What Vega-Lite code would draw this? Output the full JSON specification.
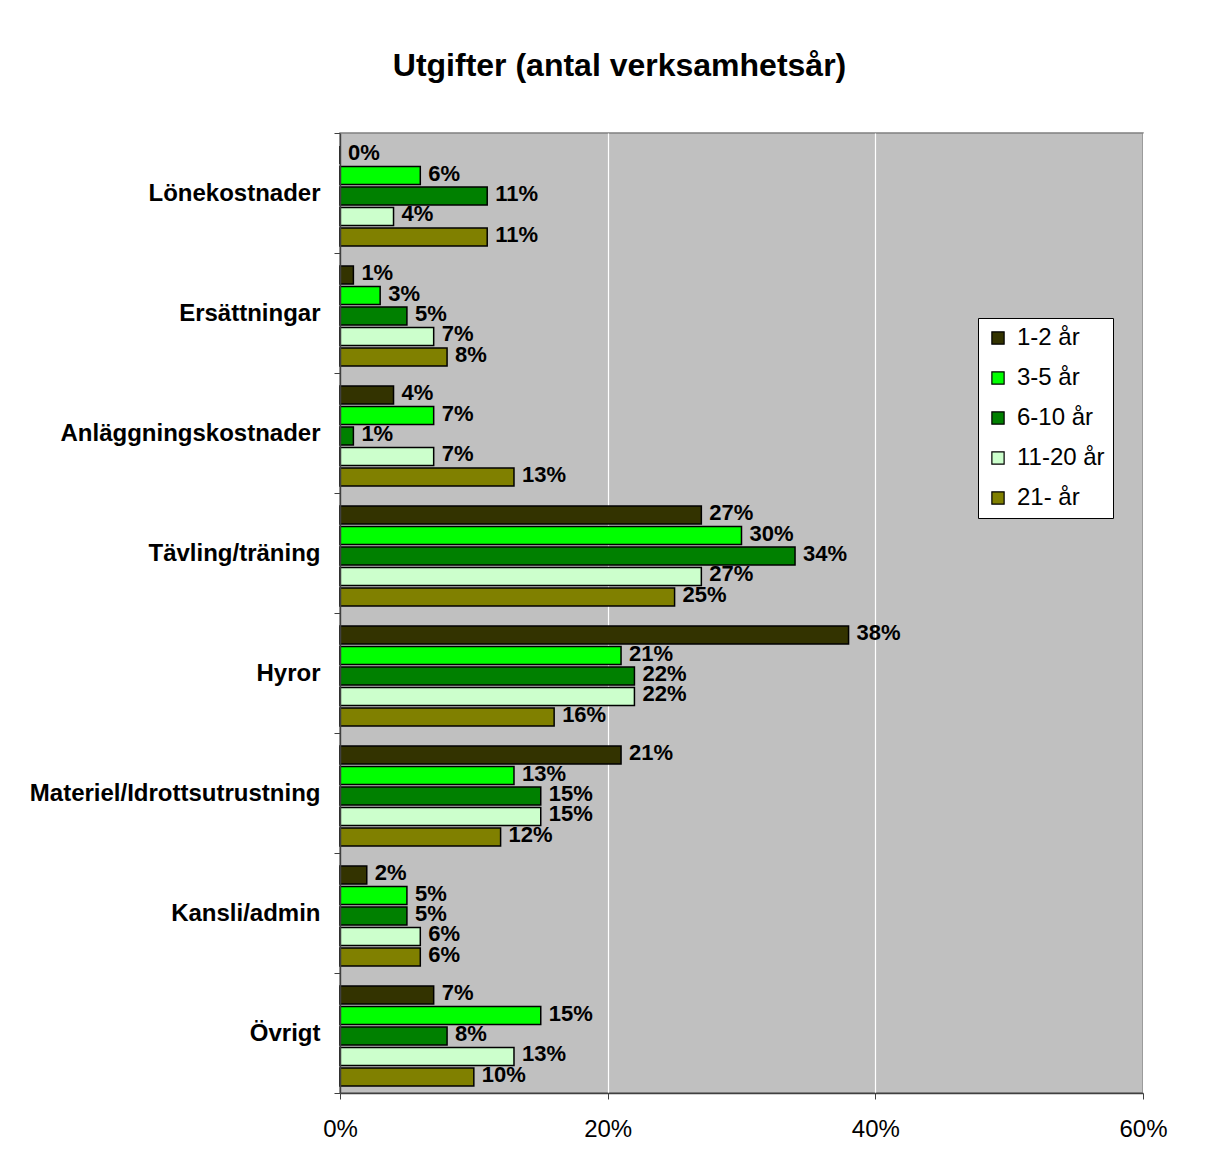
{
  "$schema": "https://vega.github.io/schema/vega-lite/v6.json",
  "autosize": {"type": "none"},
  "width": 803,
  "height": 960,
  "padding": {"left": 340, "top": 133, "right": 78, "bottom": 74},
  "background": "white",
  "title": {
    "text": "Utgifter (antal verksamhetsår)",
    "font": "Liberation Sans",
    "fontSize": 32,
    "fontWeight": "bold",
    "color": "black",
    "anchor": "middle",
    "baseline": "bottom",
    "offset": 6,
    "dx": -122
  },
  "config": {
    "font": "Liberation Sans",
    "view": {"fill": "#C0C0C0", "stroke": "#808080", "strokeWidth": 1.5}
  },
  "data": {
    "values": [
      {"kategori": "Lönekostnader", "grupp": "1-2 år", "andel": 0.0},
      {"kategori": "Lönekostnader", "grupp": "3-5 år", "andel": 0.06},
      {"kategori": "Lönekostnader", "grupp": "6-10 år", "andel": 0.11},
      {"kategori": "Lönekostnader", "grupp": "11-20 år", "andel": 0.04},
      {"kategori": "Lönekostnader", "grupp": "21- år", "andel": 0.11},
      {"kategori": "Ersättningar", "grupp": "1-2 år", "andel": 0.01},
      {"kategori": "Ersättningar", "grupp": "3-5 år", "andel": 0.03},
      {"kategori": "Ersättningar", "grupp": "6-10 år", "andel": 0.05},
      {"kategori": "Ersättningar", "grupp": "11-20 år", "andel": 0.07},
      {"kategori": "Ersättningar", "grupp": "21- år", "andel": 0.08},
      {"kategori": "Anläggningskostnader", "grupp": "1-2 år", "andel": 0.04},
      {"kategori": "Anläggningskostnader", "grupp": "3-5 år", "andel": 0.07},
      {"kategori": "Anläggningskostnader", "grupp": "6-10 år", "andel": 0.01},
      {"kategori": "Anläggningskostnader", "grupp": "11-20 år", "andel": 0.07},
      {"kategori": "Anläggningskostnader", "grupp": "21- år", "andel": 0.13},
      {"kategori": "Tävling/träning", "grupp": "1-2 år", "andel": 0.27},
      {"kategori": "Tävling/träning", "grupp": "3-5 år", "andel": 0.30},
      {"kategori": "Tävling/träning", "grupp": "6-10 år", "andel": 0.34},
      {"kategori": "Tävling/träning", "grupp": "11-20 år", "andel": 0.27},
      {"kategori": "Tävling/träning", "grupp": "21- år", "andel": 0.25},
      {"kategori": "Hyror", "grupp": "1-2 år", "andel": 0.38},
      {"kategori": "Hyror", "grupp": "3-5 år", "andel": 0.21},
      {"kategori": "Hyror", "grupp": "6-10 år", "andel": 0.22},
      {"kategori": "Hyror", "grupp": "11-20 år", "andel": 0.22},
      {"kategori": "Hyror", "grupp": "21- år", "andel": 0.16},
      {"kategori": "Materiel/Idrottsutrustning", "grupp": "1-2 år", "andel": 0.21},
      {"kategori": "Materiel/Idrottsutrustning", "grupp": "3-5 år", "andel": 0.13},
      {"kategori": "Materiel/Idrottsutrustning", "grupp": "6-10 år", "andel": 0.15},
      {"kategori": "Materiel/Idrottsutrustning", "grupp": "11-20 år", "andel": 0.15},
      {"kategori": "Materiel/Idrottsutrustning", "grupp": "21- år", "andel": 0.12},
      {"kategori": "Kansli/admin", "grupp": "1-2 år", "andel": 0.02},
      {"kategori": "Kansli/admin", "grupp": "3-5 år", "andel": 0.05},
      {"kategori": "Kansli/admin", "grupp": "6-10 år", "andel": 0.05},
      {"kategori": "Kansli/admin", "grupp": "11-20 år", "andel": 0.06},
      {"kategori": "Kansli/admin", "grupp": "21- år", "andel": 0.06},
      {"kategori": "Övrigt", "grupp": "1-2 år", "andel": 0.07},
      {"kategori": "Övrigt", "grupp": "3-5 år", "andel": 0.15},
      {"kategori": "Övrigt", "grupp": "6-10 år", "andel": 0.08},
      {"kategori": "Övrigt", "grupp": "11-20 år", "andel": 0.13},
      {"kategori": "Övrigt", "grupp": "21- år", "andel": 0.10}
    ]
  },
  "encoding": {
    "y": {
      "field": "kategori",
      "type": "nominal",
      "sort": null,
      "scale": {"paddingInner": 0, "paddingOuter": 0},
      "axis": {
        "title": null,
        "labelFont": "Liberation Sans",
        "labelFontSize": 24,
        "labelFontWeight": "bold",
        "labelColor": "black",
        "labelLimit": 400,
        "labelPadding": 14,
        "tickBand": "extent",
        "tickSize": 6,
        "tickColor": "#404040",
        "domainColor": "#404040",
        "domainWidth": 1.5,
        "zindex": 1
      }
    },
    "yOffset": {
      "field": "grupp",
      "type": "nominal",
      "sort": ["1-2 år", "3-5 år", "6-10 år", "11-20 år", "21- år"],
      "scale": {"paddingInner": 0.12, "paddingOuter": 0.49, "align": 0.65}
    },
    "x": {
      "field": "andel",
      "type": "quantitative",
      "scale": {"domain": [0, 0.6], "nice": false},
      "axis": {
        "title": null,
        "format": ".0%",
        "values": [0, 0.2, 0.4, 0.6],
        "labelFont": "Liberation Sans",
        "labelFontSize": 24,
        "labelColor": "black",
        "labelPadding": 18,
        "labelFlush": false,
        "tickSize": 6,
        "tickColor": "#404040",
        "domainColor": "#404040",
        "domainWidth": 1.5,
        "grid": true,
        "gridColor": "white",
        "gridWidth": 1.2,
        "gridOpacity": 1
      }
    }
  },
  "layer": [
    {
      "mark": {"type": "bar", "stroke": "black", "strokeWidth": 1.5, "opacity": 1},
      "encoding": {
        "color": {
          "field": "grupp",
          "type": "nominal",
          "scale": {
            "domain": ["1-2 år", "3-5 år", "6-10 år", "11-20 år", "21- år"],
            "range": ["#333300", "#00FF00", "#008000", "#CCFFCC", "#808000"]
          },
          "legend": {
            "title": null,
            "orient": "none",
            "legendX": 638,
            "legendY": 185,
            "fillColor": "white",
            "strokeColor": "black",
            "padding": 8,
            "symbolType": "square",
            "symbolSize": 150,
            "symbolStrokeColor": "black",
            "symbolStrokeWidth": 1.2,
            "symbolOpacity": 1,
            "labelFont": "Liberation Sans",
            "labelFontSize": 24,
            "labelColor": "black",
            "labelOffset": 7,
            "rowPadding": 16
          }
        }
      }
    },
    {
      "mark": {
        "type": "text",
        "align": "left",
        "baseline": "middle",
        "dx": 8,
        "dy": -2,
        "font": "Liberation Sans",
        "fontSize": 22,
        "fontWeight": "bold",
        "color": "black"
      },
      "encoding": {
        "text": {"field": "andel", "type": "quantitative", "format": ".0%"}
      }
    }
  ]
}
